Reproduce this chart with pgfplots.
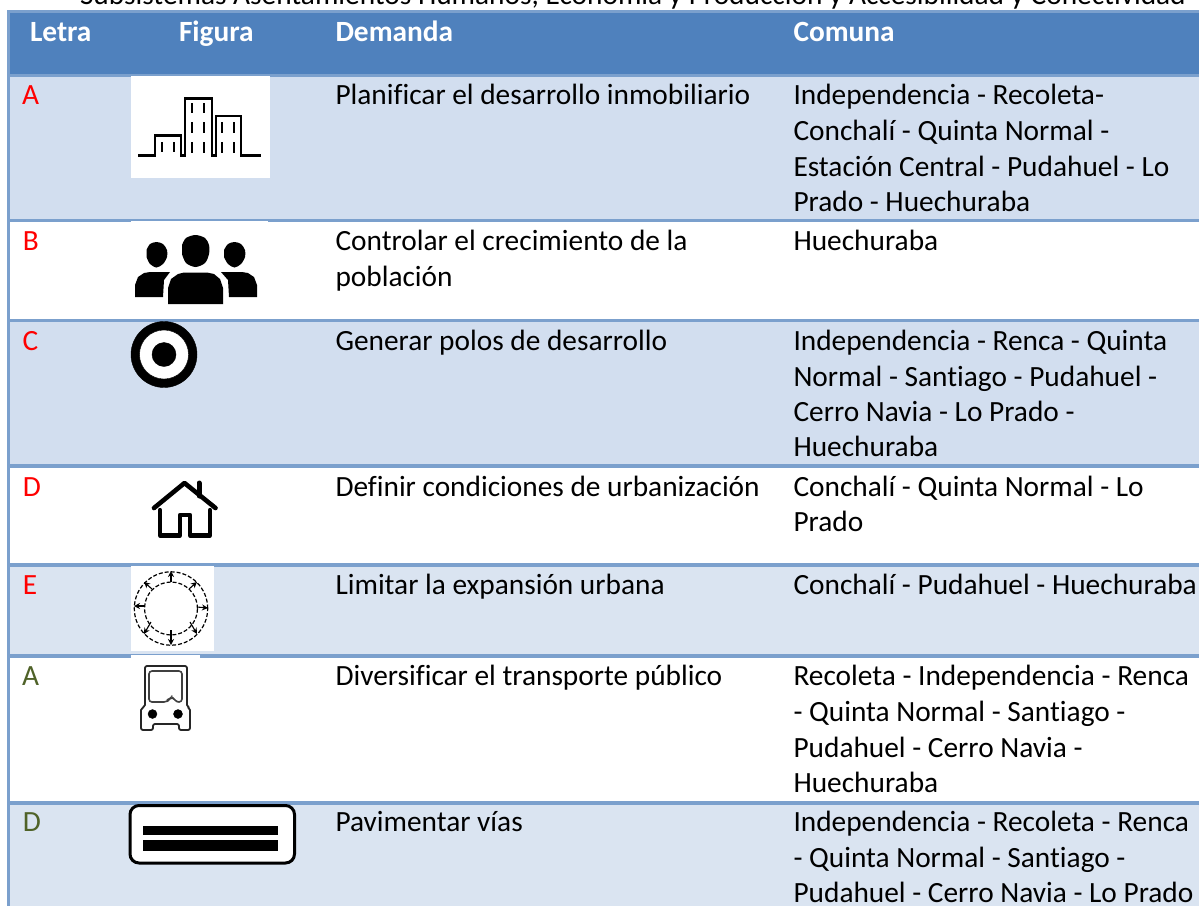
\documentclass[border=0pt]{standalone}
\usepackage{pgfplots}
\pgfplotsset{compat=1.18}
\usepackage{fontspec}
\usetikzlibrary{arrows.meta}
\setmainfont[Ligatures=NoCommon]{Carlito}
\definecolor{hdr}{HTML}{4F81BD}
\definecolor{bord}{HTML}{7BA0CD}
\definecolor{bandA}{HTML}{D2DEEF}
\definecolor{bandB}{HTML}{DAE4F1}
\definecolor{oliveT}{HTML}{4F6228}
\newcommand{\Tx}[4][black]{\node[anchor=base west,inner sep=0pt,outer sep=0pt,text=#1,font=\fontsize{29.35}{35}\selectfont] at (axis cs:#2,#3+0.8) {#4};}
\newcommand{\Hd}[2]{\node[anchor=base west,inner sep=0pt,outer sep=0pt,text=white,font=\fontsize{29.35}{35}\selectfont\bfseries] at (axis cs:#1,41) {#2};}
\newcommand{\Rc}[5]{\addplot[draw=none,fill=#1,forget plot] coordinates {(#2,#3) (#4,#3) (#4,#5) (#2,#5)} --cycle;}
\newcommand{\Hl}[1]{\addplot[bord,line width=3.2pt,forget plot] coordinates {(7,#1) (1199,#1)};}
\begin{document}
\begin{tikzpicture}
\begin{axis}[scale only axis,width=1199pt,height=906pt,xmin=0,xmax=1199,ymin=0,ymax=906,y dir=reverse,hide axis,clip=true]
\Rc{white}{0}{0}{1199}{906}
% row backgrounds
\Rc{hdr}{7}{12}{1199}{75}
\Rc{bandA}{7}{75}{1199}{221}
\Rc{white}{7}{221}{1199}{320}
\Rc{bandA}{7}{320}{1199}{466}
\Rc{white}{7}{466}{1199}{565}
\Rc{bandB}{7}{565}{1199}{656}
\Rc{white}{7}{656}{1199}{803}
\Rc{bandB}{7}{803}{1199}{906}
% borders
\Hl{11.5}\Hl{75.5}\Hl{220.5}\Hl{320.5}\Hl{466}\Hl{565}\Hl{656}\Hl{803}
\addplot[bord,line width=3.2pt,forget plot] coordinates {(8.5,10) (8.5,906)};
% header text
\Hd{30}{Letra}\Hd{179}{Figura}\Hd{335.5}{Demanda}\Hd{793.5}{Comuna}
\Tx{80}{4}{Subsistemas Asentamientos Humanos, Economía y Producción y Accesibilidad y Conectividad}
% letters
\Tx[red]{22}{104}{A}\Tx[red]{23}{250}{B}\Tx[red]{22.5}{350}{C}\Tx[red]{23}{496}{D}\Tx[red]{23}{594}{E}
\Tx[oliveT]{22}{685}{A}\Tx[oliveT]{23}{831}{D}
% Demanda
\Tx{335.5}{104}{Planificar el desarrollo inmobiliario}
\Tx{335.5}{250}{Controlar el crecimiento de la}
\Tx{335.5}{286}{población}
\Tx{335.5}{350}{Generar polos de desarrollo}
\Tx{335.5}{496}{Definir condiciones de urbanización}
\Tx{335.5}{594}{Limitar la expansión urbana}
\Tx{335.5}{685}{Diversificar el transporte público}
\Tx{335.5}{831}{Pavimentar vías}
% Comuna
\Tx{793.5}{104}{Independencia - Recoleta-}
\Tx{793.5}{140}{Conchalí - Quinta Normal -}
\Tx{793.5}{176}{Estación Central - Pudahuel - Lo}
\Tx{793.5}{211}{Prado - Huechuraba}
\Tx{793.5}{250}{Huechuraba}
\Tx{793.5}{350}{Independencia - Renca - Quinta}
\Tx{793.5}{386}{Normal - Santiago - Pudahuel -}
\Tx{793.5}{421}{Cerro Navia - Lo Prado -}
\Tx{793.5}{456}{Huechuraba}
\Tx{793.5}{496}{Conchalí - Quinta Normal - Lo}
\Tx{793.5}{531}{Prado}
\Tx{793.5}{594}{Conchalí - Pudahuel - Huechuraba}
\Tx{793.5}{685}{Recoleta - Independencia - Renca}
\Tx{793.5}{721}{- Quinta Normal - Santiago -}
\Tx{793.5}{757}{Pudahuel - Cerro Navia -}
\Tx{793.5}{792}{Huechuraba}
\Tx{793.5}{831}{Independencia - Recoleta - Renca}
\Tx{793.5}{867}{- Quinta Normal - Santiago -}
\Tx{793.5}{902}{Pudahuel - Cerro Navia - Lo Prado}
% icon A: buildings
\Rc{white}{131}{76}{270}{178}
\addplot[black,line width=2.6pt,forget plot] coordinates {(138,155.5)(155,155.5)(155,135.5)(181,135.5)(181,155.5)(185,155.5)(185,98.5)(212,98.5)(212,155.5)(216,155.5)(216,116)(241,116)(241,155.5)(261,155.5)};
\addplot[black,line width=2.2pt,forget plot] coordinates {(162,142)(162,152)};
\addplot[black,line width=2.2pt,forget plot] coordinates {(174,142)(174,152)};
\addplot[black,line width=2.2pt,forget plot] coordinates {(192,103)(192,113)};
\addplot[black,line width=2.2pt,forget plot] coordinates {(204,103)(204,113)};
\addplot[black,line width=2.2pt,forget plot] coordinates {(192,122)(192,133)};
\addplot[black,line width=2.2pt,forget plot] coordinates {(204,122)(204,133)};
\addplot[black,line width=2.2pt,forget plot] coordinates {(192,142)(192,153)};
\addplot[black,line width=2.2pt,forget plot] coordinates {(204,142)(204,153)};
\addplot[black,line width=2.2pt,forget plot] coordinates {(222,122)(222,133)};
\addplot[black,line width=2.2pt,forget plot] coordinates {(234,122)(234,133)};
\addplot[black,line width=2.2pt,forget plot] coordinates {(222,142)(222,153)};
\addplot[black,line width=2.2pt,forget plot] coordinates {(234,142)(234,153)};
% icon B: people
\Rc{white}{131}{220.5}{268}{223}
\addplot[fill=black,draw=none,smooth,forget plot] coordinates {(182,245)(186,238)(195.5,235)(205,238)(209,245)(209,254)(205,263)(195.5,267)(186,263)(182,254)} --cycle;
\addplot[fill=black,draw=none,smooth,forget plot] coordinates {(146.5,250)(150,244)(156.5,242)(163,244)(167,250)(167,257)(163,264)(156.5,267.5)(150,264)(146.5,257)} --cycle;
\addplot[fill=black,draw=none,smooth,forget plot] coordinates {(224,250)(228,244)(234.5,242)(241,244)(245,250)(245,257)(241,264)(234.5,267.5)(228,264)(224,257)} --cycle;
\addplot[fill=black,draw=none,forget plot] coordinates {(135,297)(135,285)(138,277)(144,273)(150,272)(170,272)(164,280)(163,297)};
\addplot[fill=black,draw=none,forget plot] coordinates {(257,297)(257,285)(254,277)(248,273)(242,272)(221,272)(228,280)(229,297)};
\addplot[fill=black,draw=none,forget plot] coordinates {(168,304)(168,288)(171,279)(178,274)(184,272.5)(207,272.5)(214,274)(220,279)(223,288)(223,304)};
% icon C: target
\addplot[only marks,mark=*,mark size=33pt,mark options={fill=black,draw=none},forget plot] coordinates {(164,354.5)};
\addplot[only marks,mark=*,mark size=24.5pt,mark options={fill=white,draw=none},forget plot] coordinates {(164,354.5)};
\addplot[only marks,mark=*,mark size=12pt,mark options={fill=black,draw=none},forget plot] coordinates {(164,354.5)};
% icon D: house
\addplot[black,line width=4.2pt,line join=round,line cap=round,forget plot] coordinates {(160,510)(160,535.5)(180,535.5)(180,515)(190,515)(190,535.5)(210,535.5)(210,510)};
\addplot[black,line width=4.6pt,line join=round,line cap=round,forget plot] coordinates {(154,508)(184.5,483)(215.5,508)};
\addplot[black,line width=5pt,line cap=round,forget plot] coordinates {(199,496)(199,483)};
% icon E: expansion ring
\Rc{white}{131}{566}{214}{651}
\addplot[only marks,mark=o,mark size=36.7pt,mark options={draw=black,line width=1.2pt,dash pattern=on 4pt off 2pt},forget plot] coordinates {(171,608.5)};
\addplot[only marks,mark=o,mark size=26.5pt,mark options={draw=black,line width=1.2pt,dash pattern=on 4pt off 2pt},forget plot] coordinates {(171,608.5)};
\addplot[-{Stealth[open,length=6pt,width=6pt]},black,line width=1.1pt,forget plot] coordinates {(171,582)(171,571)};
\addplot[-{Stealth[open,length=6pt,width=6pt]},black,line width=1.1pt,forget plot] coordinates {(171,630)(171,645)};
\addplot[-{Stealth[open,length=6pt,width=6pt]},black,line width=1.1pt,forget plot] coordinates {(145,606)(134,606)};
\addplot[-{Stealth[open,length=6pt,width=6pt]},black,line width=1.1pt,forget plot] coordinates {(197,607)(208,608)};
\addplot[-{Stealth[open,length=6pt,width=6pt]},black,line width=1.1pt,forget plot] coordinates {(152,589)(144,582)};
\addplot[-{Stealth[open,length=6pt,width=6pt]},black,line width=1.1pt,forget plot] coordinates {(189,589)(197,582)};
\addplot[-{Stealth[open,length=6pt,width=6pt]},black,line width=1.1pt,forget plot] coordinates {(151,622)(144,634)};
\addplot[-{Stealth[open,length=6pt,width=6pt]},black,line width=1.1pt,forget plot] coordinates {(190,622)(197,634)};
% icon A2: bus
\Rc{white}{131}{655}{200}{657.5}
\addplot[black!85,line width=1.8pt,line join=round,rounded corners=2pt,forget plot] coordinates {(145,707)(145,666)(187,666)(187,707)(190,708)(190,730)(179,730)(179,724)(153,724)(153,730)(141,730)(141,708)} --cycle;
\addplot[black!75,line width=1.6pt,rounded corners=3pt,forget plot] coordinates {(149,671)(182,671)(182,702)(176,702)(173,697)(169,699)(167,702)(149,702)} --cycle;
\addplot[only marks,mark=*,mark size=4.5pt,mark options={fill=black,draw=none},forget plot] coordinates {(152.5,714)(178,714)};
% icon D2: pavement
\addplot[fill=white,draw=black,line width=3pt,rounded corners=9pt,forget plot] coordinates {(130,805.5)(294.5,805.5)(294.5,863)(130,863)} --cycle;
\Rc{black}{143}{826}{277.5}{835}
\Rc{black}{143}{839.5}{277.5}{851}
\end{axis}
\end{tikzpicture}
\end{document}
